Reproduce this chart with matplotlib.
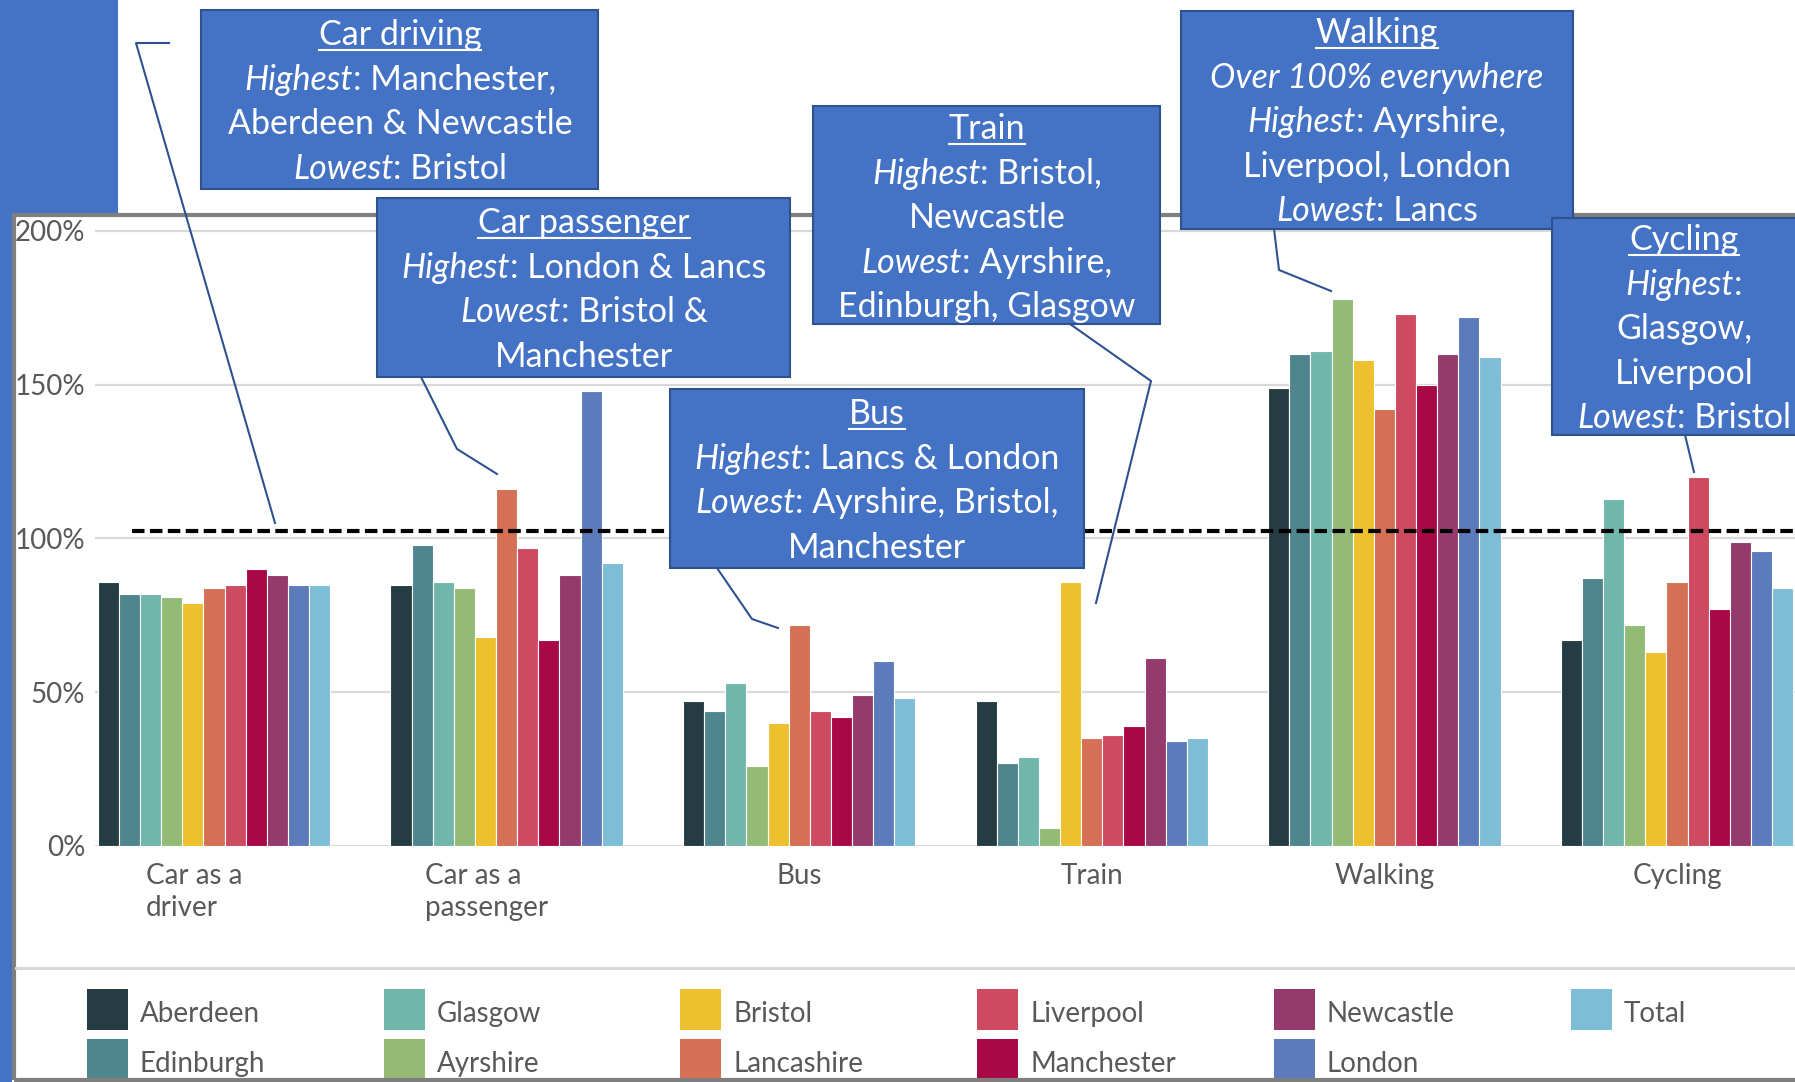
import numpy as np
import matplotlib
matplotlib.use("Agg")
import matplotlib.pyplot as plt
import matplotlib.transforms as mtransforms
from matplotlib.patches import Rectangle
from matplotlib.lines import Line2D

W, H = 1795, 1082

# Trip rates by mode, each area indexed against the national average (%)
modes = ["Car as a\ndriver", "Car as a\npassenger", "Bus", "Train", "Walking", "Cycling"]
places = ["Aberdeen", "Edinburgh", "Glasgow", "Ayrshire", "Bristol", "Lancashire",
          "Liverpool", "Manchester", "Newcastle", "London", "Total"]
colours = ["#253D42", "#4F868E", "#70B6AB", "#93BB75", "#EDC02E", "#D47055",
           "#CD4A61", "#A80845", "#943A6D", "#5B7BBA", "#7DBDD6"]

car_driver = [86, 82, 82, 81, 79, 84, 85, 90, 88, 85, 85]
car_passenger = [85, 98, 86, 84, 68, 116, 97, 67, 88, 148, 92]
bus = [47, 44, 53, 26, 40, 72, 44, 42, 49, 60, 48]
train = [47, 27, 29, 6, 86, 35, 36, 39, 61, 34, 35]
walking = [149, 160, 161, 178, 158, 142, 173, 150, 160, 172, 159]
cycling = [67, 87, 113, 72, 63, 86, 120, 77, 99, 96, 84]

reference_level = 102.4
y_ticks = [0, 50, 100, 150, 200]

# Callout text: each line is a list of (text, font style) pieces
callout_driving = [[("Car driving", "normal")],
                   [("Highest", "italic"), (": Manchester,", "normal")],
                   [("Aberdeen & Newcastle", "normal")],
                   [("Lowest", "italic"), (": Bristol", "normal")]]
callout_passenger = [[("Car passenger", "normal")],
                     [("Highest", "italic"), (": London & Lancs", "normal")],
                     [("Lowest", "italic"), (": Bristol &", "normal")],
                     [("Manchester", "normal")]]
callout_train = [[("Train", "normal")],
                 [("Highest", "italic"), (": Bristol,", "normal")],
                 [("Newcastle", "normal")],
                 [("Lowest", "italic"), (": Ayrshire,", "normal")],
                 [("Edinburgh, Glasgow", "normal")]]
callout_walking = [[("Walking", "normal")],
                   [("Over 100% everywhere", "italic")],
                   [("Highest", "italic"), (": Ayrshire,", "normal")],
                   [("Liverpool, London", "normal")],
                   [("Lowest", "italic"), (": Lancs", "normal")]]
callout_bus = [[("Bus", "normal")],
               [("Highest", "italic"), (": Lancs & London", "normal")],
               [("Lowest", "italic"), (": Ayrshire, Bristol,", "normal")],
               [("Manchester", "normal")]]
callout_cycling = [[("Cycling", "normal")],
                   [("Highest", "italic"), (":", "normal")],
                   [("Glasgow,", "normal")],
                   [("Liverpool", "normal")],
                   [("Lowest", "italic"), (": Bristol", "normal")]]

GREY_TEXT = "#595959"
BOX_FILL = "#4472C4"
BOX_EDGE = "#2F528F"
AXIS_FONT = "Lato"
BOX_FONT = "Lato"


def fx(x):
    return x / W


def fy(y):
    return 1 - y / H


fig = plt.figure(figsize=(W / 100, H / 100), dpi=100)
fig.patch.set_facecolor("white")

# slide decoration behind the chart frame
fig.add_artist(Rectangle((0, fy(215)), fx(118), 215 / H, transform=fig.transFigure,
                         facecolor=BOX_FILL, edgecolor="none", zorder=0.2))
fig.add_artist(Rectangle((0, 0), fx(12), 1, transform=fig.transFigure,
                         facecolor=BOX_FILL, edgecolor="none", zorder=0.2))
fig.add_artist(Rectangle((fx(14), fy(1080)), fx(1800) - fx(14), (1080 - 215) / H,
                         transform=fig.transFigure, fill=False, edgecolor="#7F7F7F",
                         lw=3, zorder=1))
fig.add_artist(Line2D([fx(16), 1], [fy(968), fy(968)], transform=fig.transFigure,
                      color="#D9D9D9", lw=2.2, zorder=1))

# bar chart
group_px = 292.6
ax_left, ax_bottom, ax_top = 95, 846, 215.6
ax = fig.add_axes([fx(ax_left), fy(ax_bottom), 1 - fx(ax_left), (ax_bottom - ax_top) / H])
ax.set_facecolor("white")

values = np.array([car_driver, car_passenger, bus, train, walking, cycling])
x = np.arange(len(modes))
bw = 0.0722
for j, (place, col) in enumerate(zip(places, colours)):
    ax.bar(x + (j - 5) * bw, values[:, j], bw, color=col, edgecolor="white",
           linewidth=0.8, zorder=2, label=place)

ax.set_xlim((ax_left - 214) / group_px, (W - 214) / group_px)
ax.set_ylim(0, 205)
ax.set_yticks(y_ticks)
ax.set_yticklabels([f"{v}%" for v in y_ticks])
ax.set_xticks(x)
ax.set_xticklabels(modes, multialignment="left", linespacing=1.3)
ax.tick_params(length=0, labelsize=20, labelcolor=GREY_TEXT)
ax.tick_params(axis="y", pad=7)
ax.tick_params(axis="x", pad=12)
for lab in ax.get_xticklabels() + ax.get_yticklabels():
    lab.set_family(AXIS_FONT)
# wrapped labels sit a little left of their group
nudge = mtransforms.ScaledTranslation(-20 / 100, 0, fig.dpi_scale_trans)
for lab in ax.get_xticklabels():
    if "\n" in lab.get_text():
        lab.set_transform(lab.get_transform() + nudge)
ax.yaxis.grid(True, color="#D9D9D9", lw=1.6, zorder=0)
ax.set_axisbelow(True)
for s in ax.spines.values():
    s.set_visible(False)

ax.axhline(reference_level, xmin=(132 - ax_left) / (W - ax_left), xmax=1,
           color="black", lw=3, linestyle=(0, (3.0, 1.3)), zorder=4)

# legend laid out in a fixed grid, filled column by column
for k, (place, col) in enumerate(zip(places, colours)):
    c, r = divmod(k, 2)
    lx = 87 + c * 296.7
    ly = 989 + r * 50
    fig.add_artist(Rectangle((fx(lx), fy(ly + 41)), 41 / W, 41 / H,
                             transform=fig.transFigure, facecolor=col,
                             edgecolor="none", zorder=0.8))
    fig.text(fx(lx + 53), fy(ly + 25), place, va="center", ha="left",
             fontsize=20, color=GREY_TEXT, family=AXIS_FONT, zorder=0.8)

renderer = fig.canvas.get_renderer()


def callout(box, cx, first_y, lines, z, size=24.5, step=44.6):
    x0, y0, x1, y1 = box
    fig.add_artist(Rectangle((fx(x0), fy(y1)), (x1 - x0) / W, (y1 - y0) / H,
                             transform=fig.transFigure, facecolor=BOX_FILL,
                             edgecolor=BOX_EDGE, lw=1.5, zorder=z))
    for i, parts in enumerate(lines):
        base = first_y + i * step + 12
        pieces = [fig.text(0, fy(base), s, fontstyle=st, fontsize=size, color="white",
                           family=BOX_FONT, va="baseline", ha="left", zorder=z + 0.1)
                  for s, st in parts]
        widths = [p.get_window_extent(renderer).width for p in pieces]
        left = cx - sum(widths) / 2
        pos = left
        for p, w in zip(pieces, widths):
            p.set_x(fx(pos))
            pos += w
        if i == 0:
            fig.add_artist(Line2D([fx(left), fx(pos)], [fy(base + 5)] * 2,
                                  transform=fig.transFigure, color="white",
                                  lw=1.5, zorder=z + 0.1))


def connector(points):
    xs = [fx(p[0]) for p in points]
    ys = [fy(p[1]) for p in points]
    fig.add_artist(Line2D(xs, ys, transform=fig.transFigure, color=BOX_EDGE,
                          lw=1.5, zorder=4))


connector([(169, 43), (136, 43), (275, 523)])
connector([(421, 377), (457, 449), (497, 474)])
connector([(717, 568), (752, 619), (778, 628)])
connector([(1070, 324), (1151, 381), (1096, 603)])
connector([(1274, 229), (1279, 270), (1331, 291)])
connector([(1685, 435), (1694, 472)])

callout((201, 10, 598, 189), 400, 33, callout_driving, 5)
callout((377, 198, 790, 377), 584, 221, callout_passenger, 5)
callout((813, 106, 1160, 324), 987, 127, callout_train, 5)
callout((1181, 11, 1573, 229), 1377, 31, callout_walking, 5)
callout((670, 389, 1084, 568), 877, 412, callout_bus, 5)
callout((1552, 218, 1800, 435), 1684, 238, callout_cycling, 6)

fig.savefig("out.png", dpi=100)
